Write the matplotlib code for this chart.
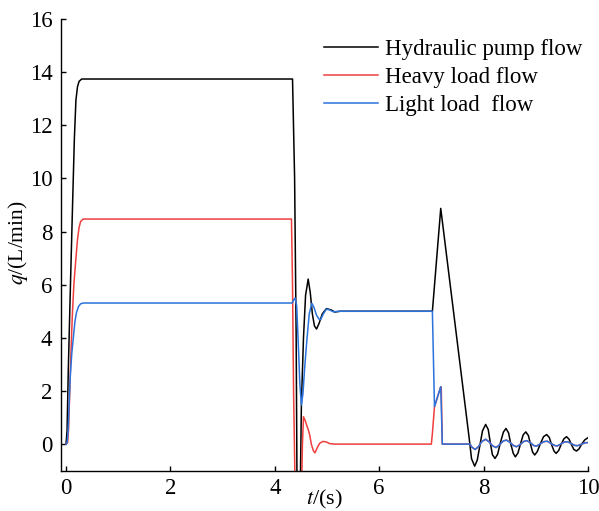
import matplotlib
matplotlib.use("Agg")
import matplotlib.pyplot as plt

plt.rcParams["font.family"] = ["Liberation Serif", "DejaVu Serif"]
plt.rcParams["mathtext.fontset"] = "stix"

# ── Data (t in s, q in L/min) ─────────────────────────────────────────────
# tail after 7.21 s where heavy and light load flows coincide
tail_t = [7.21, 7.74, 7.78, 7.84, 7.90, 7.97, 8.04, 8.11, 8.17, 8.24, 8.31,
          8.38, 8.44, 8.51, 8.57, 8.63, 8.70, 8.77, 8.83, 8.90, 8.96, 9.01,
          9.08, 9.15, 9.22, 9.29, 9.36, 9.41, 9.48, 9.55, 9.61, 9.68, 9.75,
          9.80, 9.88, 9.95, 10.0]
tail_q = [0.0, 0.0, -0.12, -0.20, -0.10, 0.10, 0.18, 0.08, -0.06, -0.13, -0.02,
          0.12, 0.15, 0.06, -0.05, -0.10, -0.02, 0.10, 0.13, 0.05, -0.05, -0.08,
          0.0, 0.09, 0.11, 0.03, -0.05, -0.07, 0.0, 0.08, 0.09, 0.02, -0.05,
          -0.06, 0.0, 0.05, 0.06]

pump_t = [0.0, 0.02, 0.045, 0.085, 0.128, 0.16, 0.19, 0.22, 0.25, 0.30,
          4.34, 4.38, 4.41, 4.43, 4.48, 4.51, 4.55, 4.59, 4.64, 4.68, 4.72,
          4.76, 4.80, 4.85, 4.91, 4.99, 5.08, 5.15, 5.25, 7.02, 7.18,
          7.72, 7.77, 7.83, 7.88, 7.93, 7.98, 8.04, 8.09, 8.13, 8.17, 8.22,
          8.27, 8.32, 8.38, 8.43, 8.48, 8.52, 8.57, 8.61, 8.66, 8.71, 8.76,
          8.81, 8.86, 8.90, 8.94, 8.98, 9.03, 9.09, 9.15, 9.21, 9.26, 9.30,
          9.35, 9.39, 9.44, 9.49, 9.54, 9.59, 9.64, 9.68, 9.73, 9.78, 9.83,
          9.88, 9.94, 10.0]
pump_q = [0.0, 0.5, 2.9, 6.0, 9.2, 11.5, 12.95, 13.45, 13.65, 13.74,
          13.74, 10.0, 4.0, -3.0, -3.0, 1.5, 4.0, 5.6, 6.21, 5.7, 4.9,
          4.45, 4.33, 4.55, 4.9, 5.1, 5.05, 4.97, 5.0, 5.0, 8.87,
          0.3, -0.55, -0.83, -0.6, -0.05, 0.5, 0.74, 0.55, 0.05, -0.4, -0.54,
          -0.38, 0.03, 0.45, 0.59, 0.42, 0.02, -0.35, -0.48, -0.33, 0.02, 0.35,
          0.46, 0.32, 0.0, -0.3, -0.41, -0.28, 0.02, 0.28, 0.36, 0.25, 0.0,
          -0.26, -0.35, -0.24, 0.0, 0.2, 0.28, 0.18, 0.0, -0.2, -0.26, -0.18,
          0.0, 0.16, 0.24]

heavy_t = [0.0, 0.03, 0.05, 0.07, 0.09, 0.12, 0.15, 0.19, 0.22, 0.25, 0.28, 0.33,
           4.32, 4.34, 4.36, 4.40, 4.50, 4.53, 4.55, 4.58, 4.61, 4.64, 4.67,
           4.70, 4.74, 4.77, 4.81, 4.86, 4.92, 4.99, 5.05, 5.15, 7.00, 7.02,
           7.06, 7.18, 7.19] + tail_t
heavy_q = [0.0, 0.05, 0.6, 1.9, 3.2, 4.8, 6.0, 7.0, 7.7, 8.15, 8.38, 8.47,
           8.47, 6.0, 2.0, -3.0, -3.0, 0.0, 1.03, 0.9, 0.72, 0.55, 0.34,
           0.0, -0.25, -0.33, -0.15, 0.03, 0.1, 0.08, 0.02, 0.0, 0.0, 0.4,
           1.41, 2.16, 2.1] + tail_q

light_t = [0.0, 0.02, 0.04, 0.06, 0.08, 0.11, 0.13, 0.17, 0.20, 0.24, 0.28, 0.33,
           4.33, 4.37, 4.39, 4.42, 4.45, 4.48, 4.51, 4.54, 4.57, 4.61, 4.66,
           4.71, 4.75, 4.80, 4.85, 4.88, 4.93, 4.99, 5.05, 5.12, 5.25, 7.02,
           7.06, 7.18] + tail_t
light_q = [0.0, 0.05, 0.5, 1.5, 2.5, 3.4, 3.8, 4.6, 4.95, 5.18, 5.28, 5.31,
           5.31, 5.45, 5.5, 5.2, 3.8, 2.3, 1.47, 1.9, 2.8, 3.8, 4.9,
           5.3, 5.15, 4.85, 4.7, 4.69, 4.9, 5.08, 5.05, 4.98, 5.0, 5.0,
           1.41, 2.16] + tail_q

labels = ["Hydraulic pump flow", "Heavy load flow", "Light load  flow"]
colors = ["black", "#ee3e3e", "#2a72dc"]

fig = plt.figure(figsize=(5.99, 5.11), dpi=100)
ax = fig.add_axes([0.1015, 0.0789, 0.88, 0.884])

ax.plot(pump_t, pump_q, color=colors[0], lw=1.1, label=labels[0])
ax.plot(heavy_t, heavy_q, color=colors[1], lw=1.1, label=labels[1])
ax.plot(light_t, light_q, color=colors[2], lw=1.1, label=labels[2])

ax.set_xlim(-0.1, 10)
ax.set_ylim(-1, 16)
ax.set_xticks([0, 2, 4, 6, 8, 10])
ax.set_yticks(range(0, 17, 2))
ax.spines["top"].set_visible(False)
ax.spines["right"].set_visible(False)
for s in ("left", "bottom"):
    ax.spines[s].set_linewidth(1.0)
ax.tick_params(direction="in", length=3.5, width=1.0, labelsize=16.5)
ax.tick_params(axis="y", pad=6)
ax.tick_params(axis="x", pad=5)

ax.set_xlabel("$t$/(s)", fontsize=16)
ax.set_ylabel("$q$/(L/min)", fontsize=15.5)
ax.xaxis.set_label_coords(0.5, -0.038)
ax.yaxis.set_label_coords(-0.058, 0.505)

ax.legend(loc="upper left", bbox_to_anchor=(0.499, 0.956), frameon=False,
          fontsize=16.5, borderpad=0, borderaxespad=0, handlelength=2.35,
          handletextpad=0.3, labelspacing=0.3)

fig.savefig("out.png", dpi=100)
